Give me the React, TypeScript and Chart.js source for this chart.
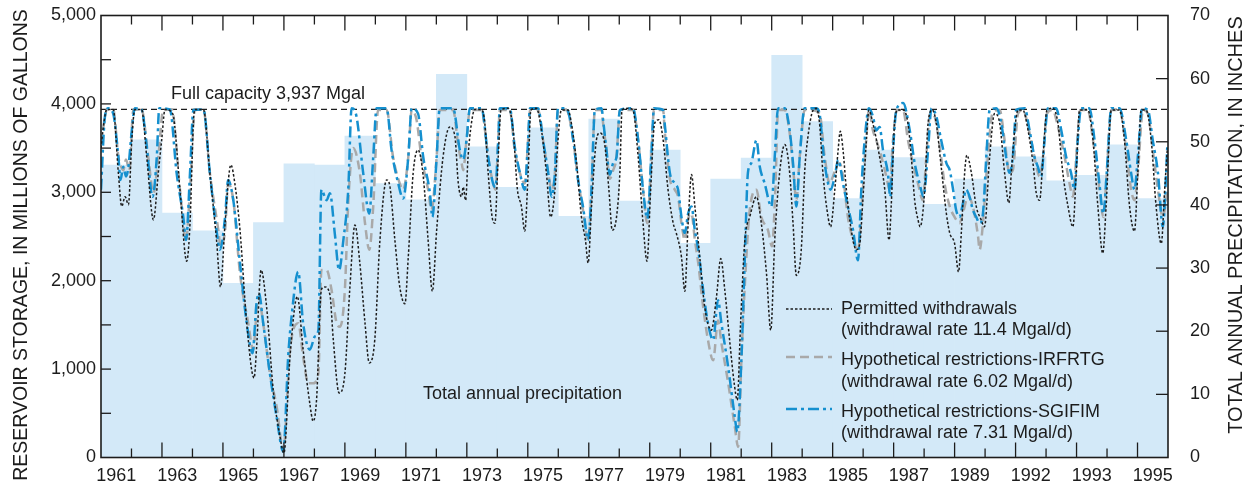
import React, { useEffect, useRef } from 'react';
import { Chart, registerables } from 'chart.js';

Chart.register(...registerables);

// ---------- DATA ----------
const years = [
  1961, 1962, 1963, 1964, 1965, 1966, 1967, 1968, 1969, 1970, 1971, 1972,
  1973, 1974, 1975, 1976, 1977, 1978, 1979, 1980, 1981, 1982, 1983, 1984,
  1985, 1986, 1987, 1988, 1989, 1990, 1991, 1992, 1993, 1994, 1995,
];

// Total annual precipitation, inches
const precipitationInches = [
  46.3, 50.3, 38.7, 35.9, 27.6, 37.2, 46.5, 46.3, 50.9, 43.4, 40.8, 60.7,
  49.2, 42.8, 52.2, 38.2, 53.6, 40.6, 48.7, 33.9, 44.1, 47.4, 63.7, 53.2,
  41.0, 48.7, 47.5, 40.1, 44.1, 49.2, 47.6, 43.8, 44.7, 49.5, 41.0,
];

// x-axis labels as printed in the source figure
const xTickLabels = [
  '1961', '1963', '1965', '1967', '1969', '1971', '1973', '1975', '1977',
  '1979', '1981', '1983', '1985', '1987', '1989', '1992', '1993', '1995',
];

const fullCapacityMgal = 3937;

// Reservoir storage (Mgal), [decimal year, storage]
const permittedWithdrawals: [number, number][] = [
  [1961.00,3500],[1961.10,3800],[1961.19,3937],[1961.40,3937],[1961.57,3215],[1961.68,2840],[1961.79,2950],[1961.90,2860],[1962.01,3590],[1962.11,3937],[1962.33,3937],[1962.50,3400],[1962.72,2690],[1962.88,3220],[1962.99,3590],[1963.10,3937],[1963.35,3890],[1963.59,3030],[1963.81,2220],[1963.92,2650],[1964.03,3780],[1964.08,3937],[1964.36,3937],[1964.57,3220],[1964.79,2460],[1964.92,1930],[1965.07,2650],[1965.26,3310],[1965.39,3100],[1965.56,2570],[1965.78,1520],[1966.02,900],[1966.10,1220],[1966.25,2120],[1966.43,1710],[1966.65,760],[1966.87,240],[1967.00,50],[1967.20,1140],[1967.44,1820],[1967.63,1220],[1967.85,610],[1967.96,410],[1968.07,650],[1968.23,1900],[1968.34,1930],[1968.51,1840],[1968.62,1330],[1968.81,730],[1969.00,950],[1969.16,1900],[1969.33,2630],[1969.49,2200],[1969.66,1520],[1969.80,1070],[1969.98,1330],[1970.15,2460],[1970.37,3140],[1970.48,3060],[1970.64,2460],[1970.80,1930],[1970.97,1740],[1971.08,2270],[1971.24,3220],[1971.40,3480],[1971.57,3180],[1971.73,2460],[1971.87,1880],[1972.01,2570],[1972.22,3400],[1972.44,3740],[1972.61,3630],[1972.72,3100],[1972.83,2950],[1972.88,3060],[1972.96,2910],[1973.04,3400],[1973.15,3780],[1973.26,3937],[1973.48,3937],[1973.59,3780],[1973.70,3220],[1973.83,2720],[1973.92,2650],[1974.03,3400],[1974.12,3930],[1974.36,3950],[1974.52,3700],[1974.66,3030],[1974.79,2840],[1974.90,2560],[1975.01,3220],[1975.10,3930],[1975.28,3950],[1975.45,3700],[1975.61,3220],[1975.75,2720],[1975.89,3030],[1975.99,3590],[1976.10,3930],[1976.32,3930],[1976.43,3780],[1976.60,3330],[1976.76,2720],[1976.89,2460],[1976.98,2200],[1977.09,2840],[1977.25,3590],[1977.36,3670],[1977.52,3550],[1977.66,3030],[1977.77,2570],[1977.91,2720],[1978.02,3220],[1978.09,3930],[1978.29,3950],[1978.45,3930],[1978.62,3400],[1978.78,2650],[1978.91,2220],[1979.03,3030],[1979.16,3780],[1979.30,3820],[1979.44,3590],[1979.60,3030],[1979.77,2650],[1979.87,2540],[1980.04,2270],[1980.15,1880],[1980.26,2650],[1980.37,3200],[1980.48,2840],[1980.64,2270],[1980.80,1710],[1981.02,1440],[1981.19,1820],[1981.33,2250],[1981.46,1900],[1981.62,1330],[1981.77,840],[1981.87,650],[1981.98,1520],[1982.12,2460],[1982.28,2720],[1982.50,2950],[1982.66,2650],[1982.83,2080],[1982.97,1440],[1983.10,2460],[1983.26,3220],[1983.43,3540],[1983.59,3220],[1983.70,2650],[1983.81,2060],[1983.97,2350],[1984.08,3220],[1984.19,3630],[1984.36,3930],[1984.46,3950],[1984.57,3780],[1984.68,3220],[1984.85,2720],[1984.93,2610],[1985.07,3030],[1985.18,3480],[1985.25,3690],[1985.34,3480],[1985.45,3030],[1985.61,2570],[1985.78,2350],[1985.89,2420],[1985.99,2910],[1986.10,3550],[1986.19,3930],[1986.32,3780],[1986.54,3400],[1986.71,3030],[1986.85,2460],[1986.92,2840],[1987.03,3780],[1987.14,3930],[1987.31,3930],[1987.47,3780],[1987.58,3400],[1987.69,2910],[1987.80,2690],[1987.87,2610],[1988.02,3030],[1988.13,3780],[1988.27,3930],[1988.40,3780],[1988.56,3290],[1988.73,2760],[1988.84,2540],[1989.00,2420],[1989.13,2100],[1989.22,2540],[1989.33,3220],[1989.40,3420],[1989.55,3220],[1989.71,2840],[1989.87,2690],[1989.98,2610],[1990.15,3400],[1990.31,3890],[1990.48,3780],[1990.64,3220],[1990.78,2880],[1990.86,3220],[1990.97,3700],[1991.08,3930],[1991.24,3930],[1991.41,3700],[1991.57,3330],[1991.68,2990],[1991.79,2910],[1991.90,3400],[1992.03,3930],[1992.22,3950],[1992.39,3780],[1992.55,3220],[1992.72,2840],[1992.88,2610],[1992.99,3220],[1993.10,3930],[1993.37,3930],[1993.54,3590],[1993.70,2840],[1993.86,2310],[1993.97,2840],[1994.14,3930],[1994.41,3930],[1994.57,3590],[1994.74,2840],[1994.90,2560],[1995.01,3220],[1995.12,3930],[1995.28,3930],[1995.45,3590],[1995.61,2840],[1995.78,2420],[1995.89,3030],[1995.98,3500],
];

const restrictionsIRFRTG: [number, number][] = [
  [1961.00,3550],[1961.13,3850],[1961.19,3937],[1961.40,3937],[1961.57,3400],[1961.62,3330],[1961.73,3250],[1961.82,3370],[1961.93,3250],[1962.06,3930],[1962.33,3937],[1962.55,3400],[1962.72,2990],[1962.88,3400],[1963.04,3930],[1963.32,3937],[1963.59,3030],[1963.79,2460],[1963.92,3030],[1964.08,3930],[1964.36,3937],[1964.57,3220],[1964.85,2570],[1964.92,2390],[1965.07,2570],[1965.17,3100],[1965.34,2910],[1965.56,2080],[1965.83,1520],[1965.99,1220],[1966.16,1820],[1966.32,1520],[1966.54,950],[1966.76,580],[1966.98,85],[1967.20,1220],[1967.47,1520],[1967.63,1140],[1967.80,840],[1967.96,840],[1968.13,950],[1968.23,2120],[1968.40,2120],[1968.56,1900],[1968.73,1520],[1968.84,1480],[1969.00,1900],[1969.11,2880],[1969.27,3500],[1969.49,3220],[1969.66,2650],[1969.80,2350],[1969.93,2840],[1970.09,3930],[1970.37,3930],[1970.58,3400],[1970.80,3100],[1970.91,3030],[1971.08,3400],[1971.19,3930],[1971.35,3820],[1971.51,3400],[1971.73,3030],[1971.84,2800],[1972.01,3400],[1972.11,3930],[1972.55,3930],[1972.72,3520],[1972.83,3330],[1972.88,3250],[1972.99,3590],[1973.10,3930],[1973.48,3930],[1973.70,3400],[1973.86,3100],[1973.94,3030],[1974.03,3590],[1974.08,3930],[1974.41,3930],[1974.57,3480],[1974.74,3220],[1974.90,3100],[1975.01,3590],[1975.07,3930],[1975.34,3930],[1975.50,3590],[1975.67,3220],[1975.78,3030],[1975.89,3220],[1975.99,3930],[1976.27,3930],[1976.49,3590],[1976.65,3140],[1976.81,2800],[1976.98,2460],[1977.09,3030],[1977.20,3930],[1977.42,3930],[1977.47,3780],[1977.58,3480],[1977.69,3150],[1977.80,3250],[1977.91,3400],[1978.02,3930],[1978.45,3930],[1978.62,3590],[1978.78,3030],[1978.92,2650],[1979.05,3400],[1979.14,3930],[1979.44,3930],[1979.49,3700],[1979.66,3150],[1979.82,3030],[1979.93,2950],[1980.04,2650],[1980.15,2460],[1980.26,2700],[1980.37,2760],[1980.48,2460],[1980.59,2200],[1980.75,1710],[1980.91,1330],[1981.08,1100],[1981.24,1550],[1981.35,1300],[1981.57,850],[1981.79,350],[1981.90,120],[1982.01,1140],[1982.17,2270],[1982.28,2800],[1982.50,3030],[1982.66,2720],[1982.88,2570],[1983.01,2390],[1983.12,3030],[1983.21,3930],[1983.43,3930],[1983.59,3670],[1983.70,3290],[1983.81,2910],[1983.92,3400],[1984.08,3930],[1984.25,3930],[1984.57,3890],[1984.74,3400],[1984.90,3100],[1985.01,3180],[1985.12,3290],[1985.23,3330],[1985.34,3180],[1985.50,2720],[1985.67,2460],[1985.83,2350],[1985.99,3030],[1986.10,3590],[1986.19,3930],[1986.32,3700],[1986.43,3590],[1986.60,3400],[1986.76,3180],[1986.87,3030],[1986.98,3590],[1987.11,3930],[1987.31,3930],[1987.47,3590],[1987.63,3330],[1987.80,3100],[1987.96,2910],[1988.07,3400],[1988.20,3890],[1988.34,3860],[1988.51,3520],[1988.67,3100],[1988.84,2840],[1989.00,2720],[1989.16,2650],[1989.27,2760],[1989.44,2950],[1989.60,2840],[1989.77,2500],[1989.82,2350],[1989.93,2650],[1990.09,3400],[1990.24,3890],[1990.48,3930],[1990.64,3590],[1990.80,3220],[1990.91,3250],[1991.08,3890],[1991.24,3930],[1991.46,3670],[1991.62,3400],[1991.79,3180],[1991.90,3400],[1992.03,3890],[1992.22,3930],[1992.39,3740],[1992.61,3400],[1992.77,3100],[1992.88,2950],[1992.99,3400],[1993.12,3930],[1993.37,3930],[1993.54,3590],[1993.75,3030],[1993.88,2720],[1993.99,3220],[1994.14,3930],[1994.41,3930],[1994.63,3480],[1994.79,3030],[1994.90,2910],[1995.01,3220],[1995.18,3930],[1995.34,3890],[1995.50,3480],[1995.67,3030],[1995.83,2720],[1995.98,3030],
];

const restrictionsSGIFIM: [number, number][] = [
  [1961.00,3030],[1961.13,3860],[1961.24,3950],[1961.40,3890],[1961.57,3400],[1961.64,3140],[1961.73,3290],[1961.82,3180],[1961.90,3290],[1962.01,3700],[1962.11,3950],[1962.33,3937],[1962.50,3520],[1962.69,2950],[1962.83,3400],[1962.91,3950],[1963.26,3937],[1963.48,3220],[1963.70,2720],[1963.79,2460],[1963.92,3220],[1964.03,3930],[1964.36,3937],[1964.57,3220],[1964.79,2570],[1964.90,2350],[1965.07,2720],[1965.17,3140],[1965.34,2910],[1965.56,2200],[1965.78,1520],[1965.97,1180],[1966.10,1740],[1966.18,1860],[1966.32,1520],[1966.54,950],[1966.76,460],[1966.98,65],[1967.14,1140],[1967.25,1590],[1967.47,2100],[1967.63,1520],[1967.85,1220],[1968.02,1370],[1968.13,1440],[1968.23,3030],[1968.40,2910],[1968.51,2990],[1968.67,2530],[1968.81,2120],[1968.95,2460],[1969.11,3030],[1969.22,3950],[1969.38,3860],[1969.60,3220],[1969.80,2760],[1969.93,3400],[1970.04,3950],[1970.37,3950],[1970.53,3480],[1970.75,3100],[1970.91,2930],[1971.08,3400],[1971.19,3950],[1971.40,3890],[1971.57,3400],[1971.79,2990],[1971.87,2720],[1972.01,3400],[1972.11,3950],[1972.55,3950],[1972.77,3480],[1972.88,3370],[1972.99,3590],[1973.10,3950],[1973.48,3950],[1973.70,3400],[1973.86,3100],[1973.94,3060],[1974.03,3590],[1974.08,3950],[1974.41,3950],[1974.57,3520],[1974.74,3220],[1974.90,3030],[1975.01,3590],[1975.07,3950],[1975.34,3950],[1975.50,3590],[1975.67,3220],[1975.78,2950],[1975.89,3220],[1975.99,3950],[1976.27,3950],[1976.49,3590],[1976.65,3140],[1976.81,2840],[1976.98,2460],[1977.09,3030],[1977.20,3930],[1977.42,3950],[1977.47,3820],[1977.58,3480],[1977.69,3200],[1977.80,3330],[1977.91,3400],[1978.02,3930],[1978.45,3950],[1978.62,3590],[1978.78,3030],[1978.92,2700],[1979.05,3400],[1979.14,3950],[1979.44,3930],[1979.49,3780],[1979.66,3220],[1979.82,3100],[1979.93,3030],[1980.04,2720],[1980.15,2540],[1980.26,2760],[1980.37,2840],[1980.48,2570],[1980.59,2350],[1980.75,1900],[1980.91,1520],[1981.08,1330],[1981.24,1780],[1981.35,1520],[1981.57,1030],[1981.79,460],[1981.87,290],[1982.01,1140],[1982.12,2270],[1982.22,3220],[1982.33,3330],[1982.50,3590],[1982.61,3290],[1982.77,3100],[1982.99,2840],[1983.10,3400],[1983.21,3950],[1983.43,3950],[1983.59,3700],[1983.70,3330],[1983.81,2840],[1983.92,3400],[1984.08,3950],[1984.46,3950],[1984.57,3890],[1984.71,3400],[1984.85,3100],[1984.93,3030],[1985.07,3180],[1985.18,3370],[1985.25,3290],[1985.34,3100],[1985.50,2840],[1985.67,2570],[1985.83,2230],[1985.94,3030],[1986.05,3590],[1986.19,3950],[1986.32,3860],[1986.43,3700],[1986.54,3740],[1986.65,3480],[1986.81,3220],[1986.89,2950],[1986.98,3480],[1987.09,3930],[1987.31,4010],[1987.53,3700],[1987.69,3330],[1987.85,3100],[1987.98,2950],[1988.13,3480],[1988.24,3950],[1988.40,3860],[1988.56,3590],[1988.73,3330],[1988.84,3250],[1988.95,3030],[1989.05,2800],[1989.16,2720],[1989.27,2870],[1989.38,3030],[1989.49,2950],[1989.60,2800],[1989.71,2720],[1989.82,2650],[1989.93,2760],[1990.04,3400],[1990.15,3930],[1990.37,3950],[1990.53,3780],[1990.69,3400],[1990.80,3220],[1990.91,3400],[1991.02,3930],[1991.30,3950],[1991.46,3700],[1991.62,3400],[1991.73,3290],[1991.84,3180],[1991.95,3590],[1992.06,3950],[1992.33,3950],[1992.50,3700],[1992.66,3400],[1992.82,3220],[1992.93,3030],[1993.04,3590],[1993.15,3950],[1993.42,3950],[1993.59,3590],[1993.75,3100],[1993.88,2760],[1993.99,3220],[1994.14,3950],[1994.41,3950],[1994.63,3590],[1994.79,3220],[1994.90,3030],[1995.01,3400],[1995.15,3950],[1995.34,3930],[1995.50,3590],[1995.67,3220],[1995.83,2610],[1995.94,3220],[1995.98,3550],
];

// ---------- STYLE ----------
const INK = '#1c1c1c';
const BAR_FILL = '#d3e9f8';
const GRAY = '#a9a9a9';
const BLUE = '#1590cf';
const FONT_FAMILY = '"Liberation Sans", Arial, Helvetica, sans-serif';
const FONT = `18px ${FONT_FAMILY}`;

const DASH_PERMITTED = [2.5, 2];
const DASH_IRFRTG = [9, 5];
const DASH_SGIFIM = [11, 4, 3, 4];

const toPoints = (arr: [number, number][]) => arr.map(([x, y]) => ({ x, y }));

const decorPlugin = {
  id: 'decor',
  afterDraw(chart: any) {
    const { ctx, chartArea: a, scales } = chart;
    const xs = scales.x;
    const ys = scales.y;
    const ys2 = scales.y2;
    const line = (x1: number, y1: number, x2: number, y2: number) => {
      ctx.beginPath();
      ctx.moveTo(x1, y1);
      ctx.lineTo(x2, y2);
      ctx.stroke();
    };
    ctx.save();
    ctx.strokeStyle = INK;
    ctx.setLineDash([]);

    // inward tick marks
    ctx.lineWidth = 1.3;
    years.slice(1).forEach((yr) => {
      const px = xs.getPixelForValue(yr);
      const len = yr % 2 === 1 ? 15 : 9;
      line(px, a.top, px, a.top + len);
      line(px, a.bottom, px, a.bottom - len);
    });
    for (let v = 500; v < 5000; v += 500) {
      const py = ys.getPixelForValue(v);
      line(a.left, py, a.left + 10, py);
    }
    for (let v = 10; v < 70; v += 10) {
      const py = ys2.getPixelForValue(v);
      line(a.right - 12, py, a.right, py);
    }

    // frame
    ctx.lineWidth = 1.6;
    ctx.strokeRect(a.left, a.top, a.right - a.left, a.bottom - a.top);

    // annotations
    ctx.fillStyle = INK;
    ctx.font = FONT;
    ctx.textAlign = 'left';
    ctx.textBaseline = 'alphabetic';
    ctx.fillText('Full capacity 3,937 Mgal', 171, 99);
    ctx.fillText('Total annual precipitation', 423, 399);

    // legend
    const sx1 = 786;
    const sx2 = 832;
    const tx = 841;
    ctx.lineWidth = 1.5;
    ctx.strokeStyle = INK;
    ctx.setLineDash(DASH_PERMITTED);
    line(sx1, 309, sx2, 309);
    ctx.lineWidth = 2.5;
    ctx.strokeStyle = GRAY;
    ctx.setLineDash(DASH_IRFRTG);
    line(sx1, 357, sx2, 357);
    ctx.strokeStyle = BLUE;
    ctx.setLineDash(DASH_SGIFIM);
    line(sx1, 409, sx2, 409);
    ctx.setLineDash([]);
    ctx.fillText('Permitted withdrawals', tx, 314);
    ctx.fillText('(withdrawal rate 11.4 Mgal/d)', tx, 335);
    ctx.fillText('Hypothetical restrictions-IRFRTG', tx, 365);
    ctx.fillText('(withdrawal rate 6.02 Mgal/d)', tx, 387);
    ctx.fillText('Hypothetical restrictions-SGIFIM', tx, 417);
    ctx.fillText('(withdrawal rate 7.31 Mgal/d)', tx, 438);

    // axis titles (both read bottom-to-top)
    ctx.textAlign = 'center';
    ctx.textBaseline = 'middle';
    ctx.save();
    ctx.font = `19.5px ${FONT_FAMILY}`;
    ctx.translate(22, 245);
    ctx.rotate(-Math.PI / 2);
    ctx.fillText('RESERVOIR STORAGE, IN MILLIONS OF GALLONS', 0, 0);
    ctx.restore();
    ctx.save();
    ctx.font = `20px ${FONT_FAMILY}`;
    ctx.translate(1236, 225);
    ctx.rotate(-Math.PI / 2);
    ctx.fillText('TOTAL ANNUAL PRECIPITATION, IN INCHES', 0, 0);
    ctx.restore();

    ctx.restore();
  },
};

const zeroPad = (scale: any) => {
  scale.paddingTop = 0;
  scale.paddingBottom = 0;
  scale.paddingLeft = 0;
  scale.paddingRight = 0;
};

export default function App() {
  const canvasRef = useRef<HTMLCanvasElement | null>(null);

  useEffect(() => {
    const canvas = canvasRef.current;
    if (!canvas) return;
    Chart.defaults.font.family = FONT_FAMILY;
    const labelPositions = years.filter((_, i) => i % 2 === 0).map((y) => y + 0.5);

    const chart = new Chart(canvas, {
      data: {
        datasets: [
          {
            type: 'line',
            label: 'Permitted withdrawals',
            data: toPoints(permittedWithdrawals),
            borderColor: INK,
            borderWidth: 1.5,
            borderDash: DASH_PERMITTED,
            pointRadius: 0,
            cubicInterpolationMode: 'monotone',
            yAxisID: 'y',
            order: 1,
          },
          {
            type: 'line',
            label: 'Hypothetical restrictions-SGIFIM',
            data: toPoints(restrictionsSGIFIM),
            borderColor: BLUE,
            borderWidth: 2.5,
            borderDash: DASH_SGIFIM,
            pointRadius: 0,
            cubicInterpolationMode: 'monotone',
            yAxisID: 'y',
            order: 2,
          },
          {
            type: 'line',
            label: 'Hypothetical restrictions-IRFRTG',
            data: toPoints(restrictionsIRFRTG),
            borderColor: GRAY,
            borderWidth: 2.5,
            borderDash: DASH_IRFRTG,
            pointRadius: 0,
            cubicInterpolationMode: 'monotone',
            yAxisID: 'y',
            order: 3,
          },
          {
            type: 'line',
            label: 'Full capacity',
            data: [
              { x: years[0], y: fullCapacityMgal },
              { x: years[years.length - 1] + 1, y: fullCapacityMgal },
            ],
            borderColor: INK,
            borderWidth: 1.3,
            borderDash: [6, 4],
            pointRadius: 0,
            yAxisID: 'y',
            order: 5,
          },
          {
            type: 'bar',
            label: 'Total annual precipitation',
            data: years.map((y, i) => ({ x: y + 0.5, y: precipitationInches[i] })),
            backgroundColor: BAR_FILL,
            borderWidth: 0,
            barPercentage: 1,
            categoryPercentage: 1,
            yAxisID: 'y2',
            order: 10,
          },
        ],
      } as any,
      options: {
        animation: false,
        responsive: false,
        maintainAspectRatio: false,
        events: [],
        layout: { padding: { top: 15.5, left: 0, right: 0, bottom: 0 } },
        plugins: { legend: { display: false }, tooltip: { enabled: false } },
        scales: {
          x: {
            type: 'linear',
            position: 'bottom',
            offset: false,
            min: years[0],
            max: years[years.length - 1] + 1,
            grid: { display: false, drawTicks: false, offset: false },
            border: { display: false },
            afterBuildTicks: (scale: any) => {
              scale.ticks = labelPositions.map((v) => ({ value: v }));
            },
            afterFit: (scale: any) => {
              scale.height = 28.5;
              zeroPad(scale);
            },
            ticks: {
              autoSkip: false,
              maxRotation: 0,
              padding: 8,
              color: INK,
              font: { size: 18, family: FONT_FAMILY },
              callback: (_v: any, i: number) => xTickLabels[i],
            },
          },
          y: {
            type: 'linear',
            position: 'left',
            min: 0,
            max: 5000,
            grid: { display: false, drawTicks: false },
            border: { display: false },
            afterFit: (scale: any) => {
              scale.width = 101;
              zeroPad(scale);
            },
            ticks: {
              stepSize: 1000,
              padding: 5,
              color: INK,
              font: { size: 18, family: FONT_FAMILY },
              callback: (v: any) => Number(v).toLocaleString('en-US'),
            },
          },
          y2: {
            type: 'linear',
            position: 'right',
            min: 0,
            max: 70,
            grid: { display: false, drawTicks: false },
            border: { display: false },
            afterFit: (scale: any) => {
              scale.width = 76;
              zeroPad(scale);
            },
            ticks: {
              stepSize: 10,
              padding: 22,
              color: INK,
              font: { size: 18, family: FONT_FAMILY },
            },
          },
        },
      } as any,
      plugins: [decorPlugin],
    });

    return () => chart.destroy();
  }, []);

  return (
    <div style={{ position: 'absolute', left: 0, top: 0, width: 1244, height: 486, background: '#fff' }}>
      <canvas ref={canvasRef} width={1244} height={486} style={{ display: 'block', width: 1244, height: 486 }} />
    </div>
  );
}
